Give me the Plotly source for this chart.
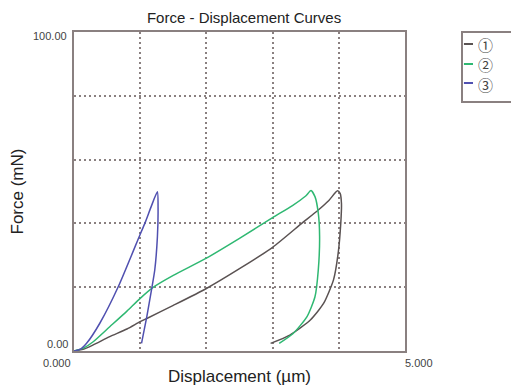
import plotly.graph_objects as go

# ---- data (displacement in µm, force in mN) ----
names = ["①", "②", "③"]
colors = ["#5a5252", "#2fb872", "#5050b0"]

x1 = [0, 0.15, 0.29, 0.54, 0.8, 1.0, 1.1, 1.5, 2.0, 2.5, 3.0, 3.44, 3.69, 3.85, 3.98,
      4.02, 4.04, 4.03, 3.99, 3.92, 3.77, 3.57, 3.26, 2.97]
y1 = [0, 0.6, 1.9, 4.5, 6.9, 9.2, 10.2, 14.3, 19.6, 25.8, 32.5, 40.0, 44.2, 47.2, 50.2,
      49.4, 46.3, 40.1, 30.6, 22.3, 14.9, 9.7, 5.0, 2.4]

x2 = [0, 0.15, 0.29, 0.54, 0.8, 1.0, 1.2, 1.5, 2.0, 2.5, 3.0, 3.3, 3.5, 3.58,
      3.64, 3.69, 3.71, 3.69, 3.64, 3.52, 3.31, 3.10]
y2 = [0, 1.0, 2.9, 7.6, 12.5, 16.5, 20.0, 23.7, 29.1, 35.3, 41.8, 45.6, 48.6, 50.3,
      48.4, 43.2, 35.8, 25.4, 17.0, 10.8, 5.5, 2.4]

x3 = [0, 0.1, 0.19, 0.39, 0.67, 1.0, 1.07, 1.17, 1.26,
      1.27, 1.26, 1.22, 1.17, 1.10, 1.02]
y3 = [0, 0.6, 2.4, 8.7, 20.2, 36.6, 40.0, 45.5, 49.9,
      44.2, 35.8, 25.4, 19.1, 10.8, 2.4]

series_x = [x1, x2, x3]
series_y = [y1, y2, y3]

x_range = [0, 5]
y_range = [0, 100]
x_tick_labels = ["0.000", "5.000"]
y_tick_labels = ["0.00", "100.00"]

frame = "#8a8080"
label_font = dict(family="Liberation Sans Narrow, Liberation Sans, Arial", size=11, color="#444444")

fig = go.Figure()
for xs, ys, n, c in zip(series_x, series_y, names, colors):
    fig.add_trace(go.Scatter(x=xs, y=ys, mode="lines", name=n,
                             line=dict(color=c, width=1.5, shape="spline", smoothing=0.6),
                             showlegend=False))

# page body adds an 8px margin, so the figure is 8px smaller and margins shifted
fig.update_layout(
    width=511, height=379,
    margin=dict(l=66, r=114, t=24, b=36, autoexpand=False),
    paper_bgcolor="white", plot_bgcolor="white",
    title=dict(text="Force - Displacement Curves", x=0.462, xanchor="center",
               y=0.975, yanchor="middle", yref="container",
               font=dict(family="Liberation Sans, Arial", size=15, color="#222222")),
    font=dict(family="Liberation Sans, Arial"),
)

fig.update_xaxes(range=x_range, dtick=1, showticklabels=False, ticks="", automargin=False,
                 showgrid=True, gridcolor=frame, gridwidth=2, griddash="2px,3px",
                 showline=True, mirror=True, linecolor=frame, linewidth=2, zeroline=False,
                 title=dict(text="Displacement (µm)", standoff=18,
                            font=dict(family="Liberation Sans, Arial", size=17, color="#222222")))
fig.update_yaxes(range=y_range, dtick=20, showticklabels=False, ticks="", automargin=False,
                 showgrid=True, gridcolor=frame, gridwidth=2, griddash="2px,3px",
                 showline=True, mirror=True, linecolor=frame, linewidth=2, zeroline=False,
                 title=dict(text="Force (mN)", standoff=46,
                            font=dict(family="Liberation Sans, Arial", size=17, color="#222222")))

# axis end labels
fig.add_annotation(x=x_range[0], y=0, xref="x", yref="paper", text=x_tick_labels[0],
                   showarrow=False, xanchor="right", yanchor="top", xshift=-1, yshift=-4, font=label_font)
fig.add_annotation(x=x_range[1], y=0, xref="x", yref="paper", text=x_tick_labels[1],
                   showarrow=False, xanchor="left", yanchor="top", xshift=-2, yshift=-4, font=label_font)
fig.add_annotation(x=0, y=y_range[0], xref="paper", yref="y", text=y_tick_labels[0],
                   showarrow=False, xanchor="right", yanchor="middle", xshift=-4, yshift=7, font=label_font)
fig.add_annotation(x=0, y=y_range[1], xref="paper", yref="y", text=y_tick_labels[1],
                   showarrow=False, xanchor="right", yanchor="middle", xshift=-5, yshift=-4, font=label_font)

# legend box (drawn)
fig.add_shape(type="rect", xref="paper", yref="paper", x0=1.1722, x1=1.40, y0=0.7806, y1=1.0,
              line=dict(color=frame, width=2), fillcolor="white")
leg_y = [0.9624, 0.8997, 0.8401]
for n, c, ly in zip(names, colors, leg_y):
    fig.add_shape(type="line", xref="paper", yref="paper", x0=1.178, x1=1.2054, y0=ly, y1=ly,
                  line=dict(color=c, width=2))
    fig.add_annotation(x=1.2447, y=ly, xref="paper", yref="paper", text=n, showarrow=False,
                       xanchor="center", yanchor="middle", yshift=-1,
                       font=dict(family="Noto Sans CJK JP, DejaVu Sans", size=15, color="#444444"))

fig.write_html("out.html")
